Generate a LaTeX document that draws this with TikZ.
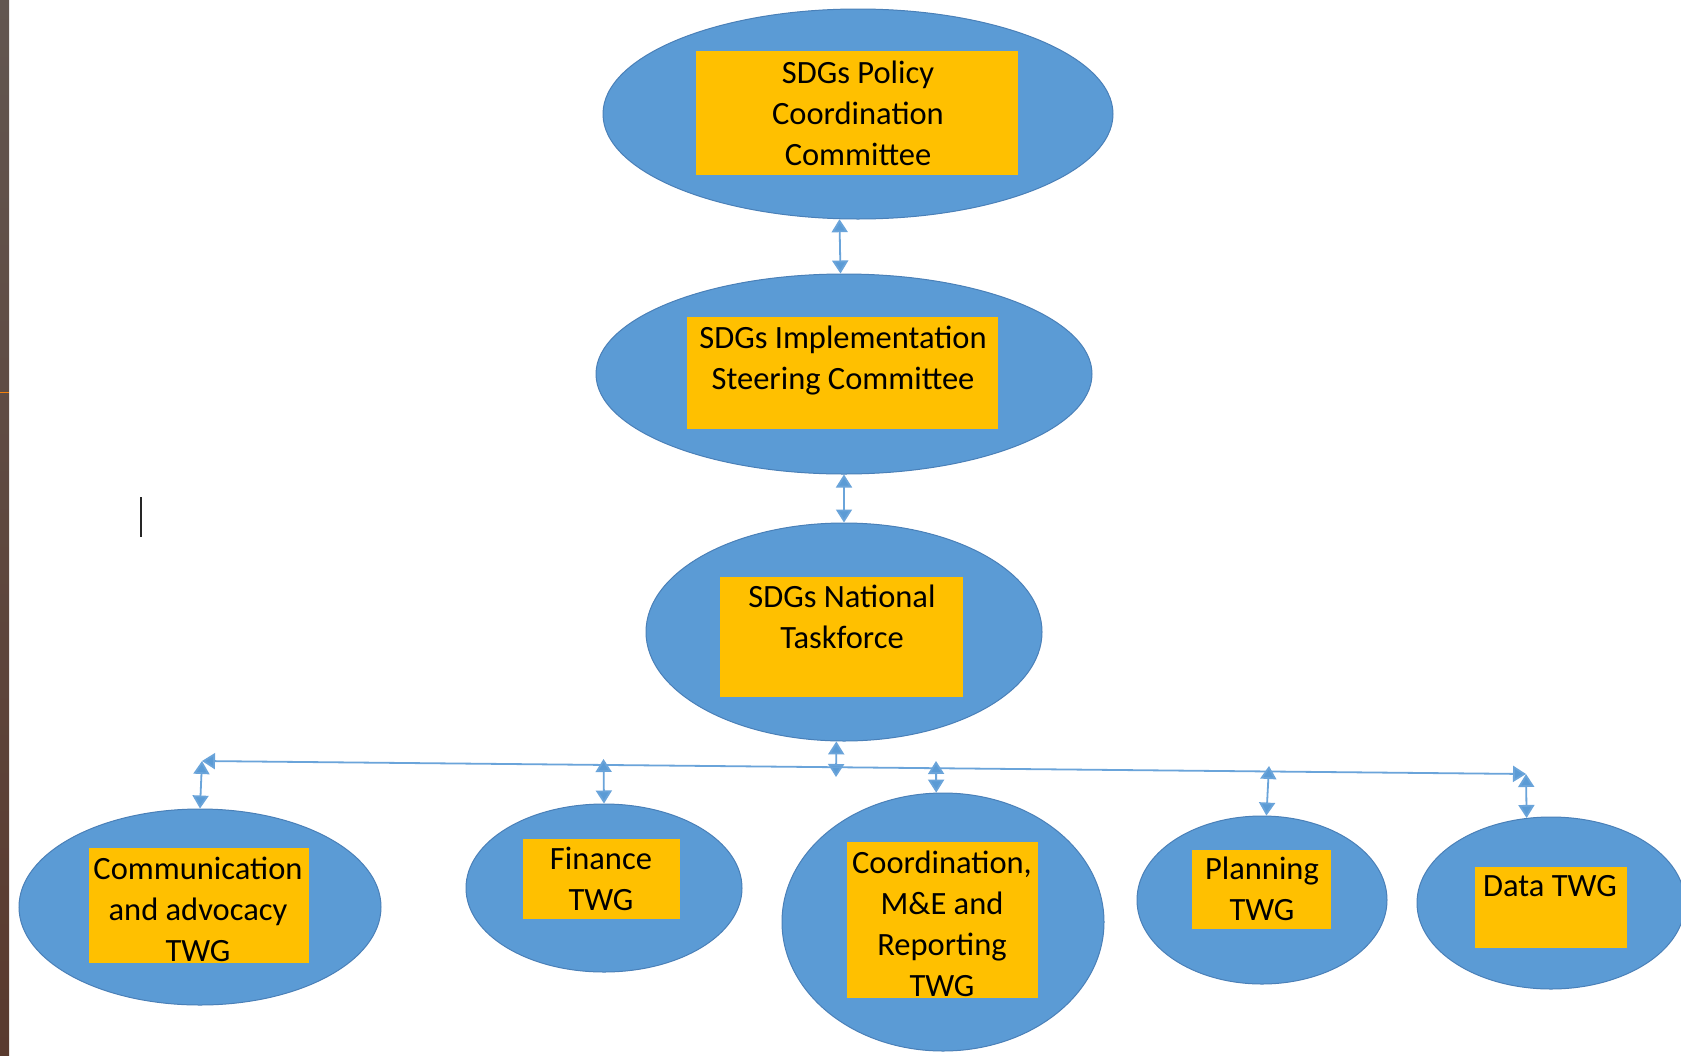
\documentclass[tikz,border=0pt]{standalone}
\usepackage{fontspec}
\setmainfont{Carlito}
\usetikzlibrary{shapes.geometric,arrows.meta}
\definecolor{ellblue}{HTML}{5B9BD5}
\definecolor{elledge}{HTML}{4A80B8}
\definecolor{boxgold}{HTML}{FFC000}
\definecolor{connblue}{HTML}{6AA4DA}
\definecolor{stripA}{HTML}{625650}
\definecolor{stripB}{HTML}{5A3A2E}
\tikzset{
  ell/.style={ellipse, fill=ellblue, draw=elledge, line width=1pt, inner sep=0pt},
  goldbox/.style={rectangle, fill=boxgold, draw=none, inner sep=0pt},
  lbl/.style={align=center, inner sep=0pt, font=\fontsize{32.5}{41}\selectfont},
  conn/.style={draw=connblue, line width=1.8pt, {Triangle[width=16pt,length=13pt,fill=ellblue]}-{Triangle[width=16pt,length=13pt,fill=ellblue]}},
}
\begin{document}
\begin{tikzpicture}[x=1pt,y=-1pt]
\useasboundingbox (0,0) rectangle (1681,1055);
\clip (0,0) rectangle (1681,1055);
\fill[white] (0,0) rectangle (1681,1055);
% left strip
\shade[top color=stripA, bottom color=stripB] (0,0) rectangle (9,1055);
\draw[draw=orange!80!brown, line width=1pt] (0,392) -- (9,392);
% cursor
\draw[draw=black!85, line width=2.6pt] (141,497) -- (141,537);

% ellipses
\node[ell, minimum width=510pt, minimum height=210pt] (e1) at (858,114) {};
\node[ell, minimum width=496pt, minimum height=200pt] (e2) at (844,374) {};
\node[ell, minimum width=396pt, minimum height=218pt] (e3) at (844,632) {};
\node[ell, minimum width=362pt, minimum height=196pt] (e4) at (200,907) {};
\node[ell, minimum width=276pt, minimum height=168pt] (e5) at (604,888) {};
\node[ell, minimum width=322pt, minimum height=258pt] (e6) at (943,922) {};
\node[ell, minimum width=250pt, minimum height=168pt] (e7) at (1262,900) {};
\node[ell, minimum width=268pt, minimum height=172pt] (e8) at (1551,903) {};

% gold boxes
\node[goldbox, minimum width=322pt, minimum height=124pt] (r1) at (857,113) {};
\node[goldbox, minimum width=311pt, minimum height=112pt] (r2) at (842.5,373) {};
\node[goldbox, minimum width=243pt, minimum height=120pt] (r3) at (841.5,637) {};
\node[goldbox, minimum width=220pt, minimum height=115pt] (r4) at (199,905.5) {};
\node[goldbox, minimum width=157pt, minimum height=80pt] (r5) at (601.5,879) {};
\node[goldbox, minimum width=191pt, minimum height=156pt] (r6) at (942.5,920) {};
\node[goldbox, minimum width=139pt, minimum height=79pt] (r7) at (1261.5,889.5) {};
\node[goldbox, minimum width=152pt, minimum height=81pt] (r8) at (1551,907.5) {};

% labels
\node[lbl] (t1) at (858,116) {SDGs Policy\strut\\Coordination\strut\\Committee\strut};
\node[lbl] (t2) at (843,361) {SDGs Implementation\strut\\Steering Committee\strut};
\node[lbl] (t3) at (842,620) {SDGs National\strut\\Taskforce\strut};
\node[lbl] (t4) at (198,912) {Communication\strut\\and advocacy\strut\\TWG\strut};
\node[lbl] (t5) at (601,882) {Finance\strut\\TWG\strut};
\node[lbl] (t6) at (942,927) {Coordination,\strut\\M\&E and\strut\\Reporting\strut\\TWG\strut};
\node[lbl] (t7) at (1262,892) {Planning\strut\\TWG\strut};
\node[lbl] (t8) at (1550,888) {Data TWG\strut};

% connector coordinates
\coordinate (hl) at (202,761);
\coordinate (hr) at (1526,774);
\coordinate (h3) at (836,777);
\coordinate (v5) at (603.5,759);
\coordinate (v6) at (936,761);
\coordinate (v7) at (1269,766);

% connectors
\draw[conn] (e1.260) -- (e2.92);
\draw[conn] (e2.270) -- (e3.90);
\draw[conn] (e3.266) -- (h3);
\draw[conn] (hl) -- (hr);
\draw[conn] (hl) -- (e4.north);
\draw[conn] (v5) -- (e5.north);
\draw[conn] (v6) -- (e6.93);
\draw[conn] (v7) -- (e7.87);
\draw[conn] (hr) -- (e8.106);
\end{tikzpicture}
\end{document}
